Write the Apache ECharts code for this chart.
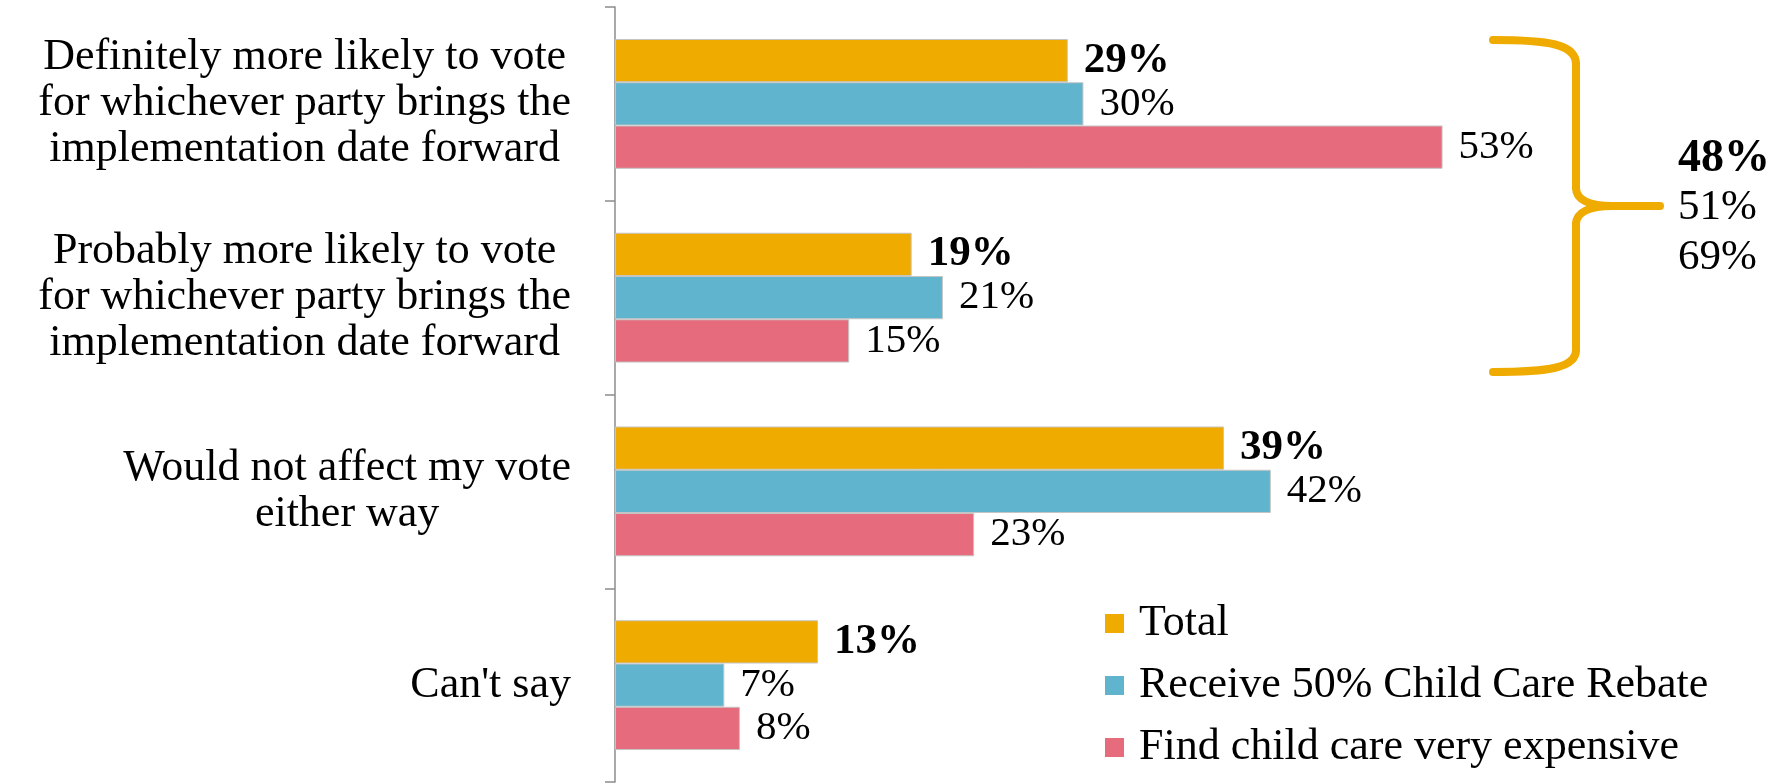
<!DOCTYPE html>
<html>
<head>
<meta charset="utf-8">
<script src="https://cdn.jsdelivr.net/npm/echarts@6/dist/echarts.min.js"></script>
<style>
  html, body { margin: 0; padding: 0; background: #ffffff; }
  #chart { width: 1789px; height: 783px; }
</style>
</head>
<body>
<div id="chart"></div>
<script>
const categories = [
  'Definitely more likely to vote\nfor whichever party brings the\nimplementation date forward',
  'Probably more likely to vote\nfor whichever party brings the\nimplementation date forward',
  'Would not affect my vote\neither way',
  "Can't say"
];
const seriesNames = ['Total', 'Receive 50% Child Care Rebate', 'Find child care very expensive'];
const totalValues = [29, 19, 39, 13];
const rebateValues = [30, 21, 42, 7];
const expensiveValues = [53, 15, 23, 8];
const bracketTotals = [48, 51, 69];

const colors = ['#F0AB00', '#61B4CD', '#E56B7D'];
const FONT = 'Liberation Serif';

const chart = echarts.init(document.getElementById('chart'), null, { renderer: 'canvas' });

function barSeries(name, data, color, bold) {
  return {
    type: 'bar',
    name: name,
    data: data,
    barGap: '0%',
    barCategoryGap: '33%',
    itemStyle: { color: color, borderColor: '#c4c4c4', borderWidth: 1 },
    label: {
      show: true,
      position: 'right',
      distance: 16,
      formatter: p => p.value + '%',
      fontFamily: FONT,
      fontSize: bold ? 43 : 41,
      fontWeight: bold ? 'bold' : 'normal',
      color: '#000'
    },
    emphasis: { disabled: true },
    animation: false
  };
}

const braceStyle = { stroke: '#F0AB00', lineWidth: 8, fill: null, lineCap: 'round' };
function bez(x1, y1, cpx1, cpy1, cpx2, cpy2, x2, y2) {
  return { type: 'bezierCurve', shape: { x1, y1, cpx1, cpy1, cpx2, cpy2, x2, y2 }, style: braceStyle, silent: true };
}
function seg(x1, y1, x2, y2) {
  return { type: 'line', shape: { x1, y1, x2, y2 }, style: braceStyle, silent: true };
}

const braceParts = [
  bez(1493, 40, 1548, 40, 1576, 44, 1576, 64),
  seg(1576, 64, 1576, 188),
  bez(1576, 188, 1576, 200, 1590, 206, 1612, 206),
  seg(1612, 206, 1660, 206),
  bez(1612, 206, 1590, 206, 1576, 212, 1576, 224),
  seg(1576, 224, 1576, 350),
  bez(1576, 350, 1576, 368, 1548, 372, 1493, 372)
];

const option = {
  backgroundColor: '#ffffff',
  animation: false,
  color: colors,
  grid: { left: 615, top: 7, width: 1093, height: 775, containLabel: false },
  xAxis: {
    type: 'value',
    min: 0,
    max: 70,
    show: false
  },
  yAxis: {
    type: 'category',
    data: categories,
    inverse: true,
    axisLine: { show: true, lineStyle: { color: '#8c8c8c', width: 1.5 } },
    axisTick: { show: true, length: 10, inside: false, lineStyle: { color: '#8c8c8c', width: 1.5 } },
    axisLabel: {
      margin: 44,
      fontFamily: FONT,
      fontSize: 44,
      lineHeight: 46,
      color: '#000',
      formatter: v => v.split('\n').map(l => '{c|' + l + '}').join('\n'),
      rich: {
        c: { align: 'center', fontFamily: FONT, fontSize: 44, lineHeight: 46, color: '#000' }
      }
    }
  },
  legend: {
    orient: 'vertical',
    left: 1100,
    top: 596,
    itemWidth: 19,
    itemHeight: 19,
    itemGap: 17,
    icon: 'rect',
    data: seriesNames,
    selectedMode: false,
    itemStyle: { borderWidth: 0 },
    textStyle: { fontFamily: FONT, fontSize: 44, lineHeight: 45, color: '#000', padding: [0, 0, 0, 10] }
  },
  graphic: braceParts.concat(bracketTotals.map((v, i) => ({
    type: 'text',
    left: 1678,
    top: 159 + i * 50 - 23,
    style: {
      text: v + '%',
      fontFamily: FONT,
      fontSize: i === 0 ? 46 : 43,
      fontWeight: i === 0 ? 'bold' : 'normal',
      fill: '#000'
    },
    silent: true
  }))),
  series: [
    barSeries(seriesNames[0], totalValues, colors[0], true),
    barSeries(seriesNames[1], rebateValues, colors[1], false),
    barSeries(seriesNames[2], expensiveValues, colors[2], false)
  ]
};

chart.setOption(option);
</script>
</body>
</html>
